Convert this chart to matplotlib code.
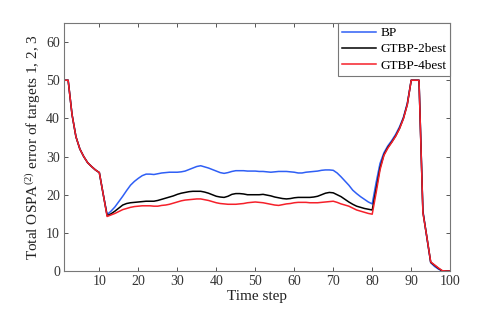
import matplotlib
matplotlib.use("Agg")
import matplotlib.pyplot as plt
import numpy as np

plt.rcParams['font.family'] = ['Liberation Serif', 'DejaVu Serif']
plt.rcParams['mathtext.fontset'] = 'custom'
plt.rcParams['mathtext.rm'] = 'Liberation Serif'
plt.rcParams['mathtext.it'] = 'Liberation Serif:italic'

steps = list(range(1, 101))

common_start = [50, 50, 41, 35.2, 32, 30, 28.4, 27.4, 26.5, 25.8, 20.1]

bp_mid = [14.8, 15.7, 16.8, 18.2, 19.6, 21.1, 22.5, 23.5, 24.3, 25.0,
          25.4, 25.4, 25.3, 25.5, 25.7, 25.8, 25.9, 25.9, 25.9, 26.0,
          26.2, 26.6, 27.0, 27.4, 27.6, 27.3, 27.0, 26.6, 26.2, 25.8,
          25.6, 25.8, 26.1, 26.3, 26.3, 26.3, 26.2, 26.2, 26.2, 26.1,
          26.1, 26.0, 25.9, 26.0, 26.1, 26.1, 26.1, 26.0, 25.9, 25.7,
          25.7, 25.9, 26.0, 26.1, 26.2, 26.4, 26.5, 26.5, 26.4, 25.7,
          24.7, 23.6, 22.5, 21.2, 20.3, 19.5, 18.8, 18.1, 17.6]
bp_end = [23.2, 28.2, 31.0, 32.8, 34.2, 35.8, 37.8, 40.3, 44.0, 50,
          50, 50, 15.8, 8.8, 2.2, 1.2, 0.5, 0, 0, 0]

g2_mid = [14.5, 15.0, 15.7, 16.5, 17.3, 17.7, 17.9, 18.0, 18.1, 18.2,
          18.3, 18.3, 18.3, 18.5, 18.8, 19.1, 19.4, 19.7, 20.1, 20.4,
          20.6, 20.8, 20.9, 20.9, 20.9, 20.7, 20.4, 20.0, 19.6, 19.4,
          19.3, 19.6, 20.1, 20.3, 20.3, 20.2, 20.0, 20.0, 20.0, 20.0,
          20.1, 19.9, 19.7, 19.4, 19.2, 19.0, 18.9, 19.0, 19.2, 19.3,
          19.3, 19.3, 19.3, 19.4, 19.6, 20.0, 20.4, 20.6, 20.5, 20.0,
          19.5, 18.8, 18.1, 17.5, 17.0, 16.7, 16.4, 16.2, 16.0]
g2_end = [21.5, 27.0, 30.5, 32.4, 33.8, 35.4, 37.4, 40.0, 43.7, 50,
          50, 50, 15.5, 9.0, 2.3, 1.5, 0.7, 0, 0, 0]

g4_mid = [14.3, 14.7, 15.1, 15.6, 16.1, 16.4, 16.7, 16.9, 17.0, 17.1,
          17.1, 17.1, 17.0, 17.0, 17.2, 17.3, 17.5, 17.8, 18.1, 18.4,
          18.6, 18.7, 18.8, 18.9, 18.9, 18.7, 18.5, 18.2, 17.9, 17.7,
          17.6, 17.5, 17.5, 17.5, 17.6, 17.7, 17.9, 18.0, 18.1, 18.0,
          17.9, 17.7, 17.5, 17.3, 17.2, 17.4, 17.6, 17.7, 17.9, 18.0,
          18.0, 18.0, 17.9, 17.9, 17.9, 18.0, 18.1, 18.2, 18.3, 18.0,
          17.6, 17.3, 17.0, 16.5, 16.0, 15.7, 15.4, 15.1, 14.9]
g4_end = [20.5, 26.5, 30.3, 32.2, 33.7, 35.3, 37.3, 39.9, 43.6, 50,
          50, 50, 15.3, 9.0, 2.4, 1.6, 0.8, 0.1, 0, 0]

bp = common_start + bp_mid + bp_end
gtbp2 = common_start + g2_mid + g2_end
gtbp4 = common_start + g4_mid + g4_end

labels = ['BP', 'GTBP-2best', 'GTBP-4best']
colors = ['#2f5ff5', '#000000', '#f5202a']

fig = plt.figure(figsize=(4.98, 3.13), dpi=100)
ax = fig.add_axes([0.129, 0.134, 0.775, 0.7925])

for y, lab, c in zip([bp, gtbp2, gtbp4], labels, colors):
    ax.plot(steps, y, color=c, lw=1.1, label=lab)

ax.set_xlim(1, 100)
ax.set_ylim(0, 65)
ax.set_xticks(range(10, 101, 10))
ax.set_yticks(range(0, 61, 10))
ax.tick_params(direction='in', length=3, width=0.7, top=True, right=True,
               labelsize=10, colors='#555555', labelcolor='#333333', pad=3)
for s in ax.spines.values():
    s.set_color('#777777')
    s.set_linewidth(0.8)

ax.set_xlabel('Time step', fontsize=11, color='#222222', labelpad=1)
ax.set_ylabel('Total OSPA$^{(2)}$ error of targets 1, 2, 3', fontsize=11,
              color='#222222', labelpad=2)

leg = ax.legend(loc='upper right', borderaxespad=0, fancybox=False,
                edgecolor='#777777', framealpha=1, fontsize=9.5,
                handlelength=2.6, labelspacing=0.3, borderpad=0.3,
                handletextpad=0.3)
leg.get_frame().set_linewidth(0.8)

fig.savefig('out.png', dpi=100)
